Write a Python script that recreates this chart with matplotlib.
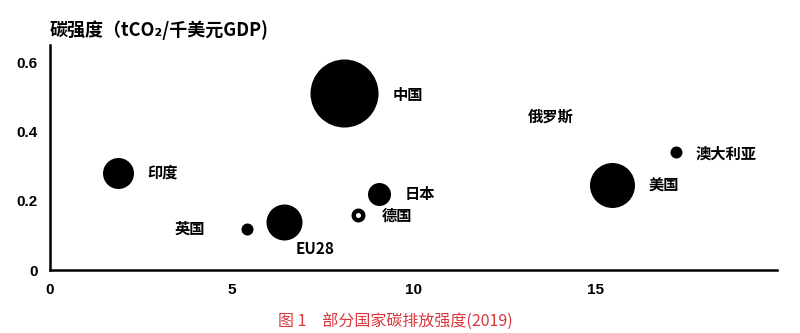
import matplotlib
matplotlib.use("Agg")
import matplotlib.pyplot as plt

# ---- data ----
countries = ["中国", "印度", "英国", "EU28", "德国", "日本", "美国", "澳大利亚"]
per_capita = [8.09, 1.88, 5.42, 6.44, 8.47, 9.06, 15.47, 17.22]      # x
intensity = [0.511, 0.281, 0.118, 0.140, 0.160, 0.221, 0.247, 0.341]  # y (tCO2/千美元GDP)
bubble_size = [2400, 498, 75, 672, 47, 274, 1050, 75]                # relative total emissions
russia_label = "俄罗斯"
russia_xy = (13.78, 0.444)
x_ticks = [0, 5, 10, 15]
y_ticks = [0, 0.2, 0.4, 0.6]
y_tick_labels = ["0", "0.2", "0.4", "0.6"]

cjk = ["Noto Sans CJK SC", "DejaVu Sans"]
plt.rcParams["font.family"] = cjk

fig = plt.figure(figsize=(8, 3.33), dpi=100)
W, H = 800, 333
ax = fig.add_axes([50 / W, (H - 270) / H, (777 - 50) / W, (270 - 45) / H])

for name, x, y, s in zip(countries, per_capita, intensity, bubble_size):
    if name == "德国":
        ax.scatter([x], [y], s=s, facecolor="white", edgecolor="black",
                   linewidth=3.2, zorder=3, clip_on=False)
    else:
        ax.scatter([x], [y], s=s, color="black", linewidth=0, zorder=3, clip_on=False)

offsets = {
    "中国": (49, -2, "left"),
    "印度": (29, 0, "left"),
    "英国": (-42, 0, "right"),
    "EU28": (12, -27, "left"),
    "德国": (24, -1, "left"),
    "日本": (25, 0, "left"),
    "美国": (36, -1, "left"),
    "澳大利亚": (20, -2, "left"),
}
for name, x, y in zip(countries, per_capita, intensity):
    dx, dy, ha = offsets[name]
    ax.annotate(name, (x, y), xytext=(dx, dy), textcoords="offset pixels",
                ha=ha, va="center", fontsize=11, fontweight="bold",
                family=cjk, color="black")
ax.text(russia_xy[0], russia_xy[1], russia_label, ha="center", va="center",
        fontsize=11, fontweight="bold", family=cjk)

ax.set_xlim(0, 20)
ax.set_ylim(0, 0.65)
ax.set_xticks(x_ticks)
ax.set_xticklabels([str(t) for t in x_ticks])
ax.set_yticks(y_ticks)
ax.set_yticklabels(y_tick_labels)
ax.tick_params(length=0, labelsize=11)
ax.tick_params(axis="x", pad=9)
ax.tick_params(axis="y", pad=9)
for lbl in ax.get_xticklabels() + ax.get_yticklabels():
    lbl.set_fontweight("bold")
    lbl.set_family(["Liberation Sans", "DejaVu Sans"])
for sp in ["top", "right"]:
    ax.spines[sp].set_visible(False)
for sp in ["left", "bottom"]:
    ax.spines[sp].set_linewidth(1.8)

fig.text(50 / W, 1 - 30 / H, "碳强度（tCO₂/千美元GDP)", ha="left", va="center",
         fontsize=13, fontweight="bold", family=cjk)
fig.text(395 / W, 1 - 322 / H, "图 1　部分国家碳排放强度(2019)", ha="center", va="center",
         fontsize=11.5, color="#d9383d", family=cjk)

fig.savefig("out.png", dpi=100)
